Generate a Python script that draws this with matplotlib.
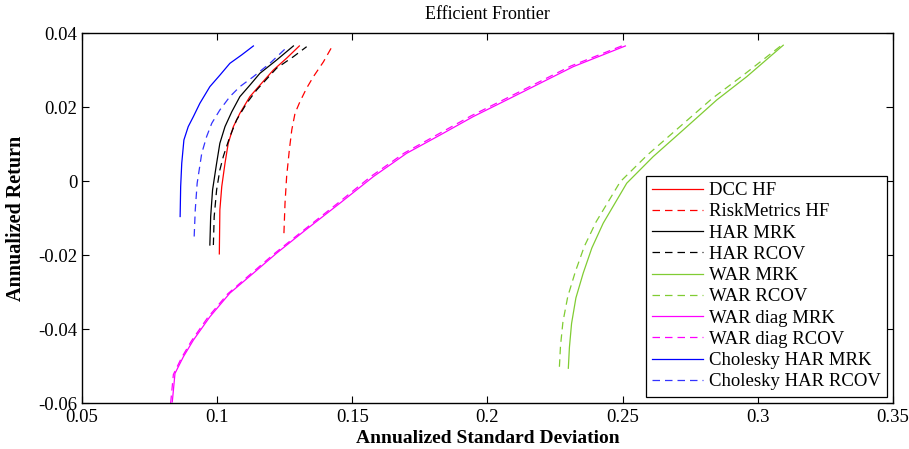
import matplotlib
matplotlib.use("Agg")
import matplotlib.pyplot as plt
from matplotlib.ticker import FixedLocator, FixedFormatter

plt.rcParams['font.family'] = ['Liberation Serif', 'DejaVu Serif']

# ---- data ----
dcc_hf_x = [0.1008, 0.1010, 0.1017, 0.1029, 0.1041, 0.1060, 0.1084, 0.1121, 0.1158, 0.1208, 0.1257, 0.1304]
dcc_hf_y = [-0.0197, -0.0078, -0.0015, 0.0048, 0.0102, 0.0147, 0.0183, 0.0228, 0.0259, 0.0300, 0.0332, 0.0365]

rm_hf_x = [0.1247, 0.1251, 0.1257, 0.1267, 0.1276, 0.1288, 0.1306, 0.1331, 0.1356, 0.1393, 0.1424]
rm_hf_y = [-0.0141, -0.0060, 0.0012, 0.0084, 0.0138, 0.0183, 0.0214, 0.0251, 0.0282, 0.0322, 0.0362]

har_mrk_x = [0.0973, 0.0976, 0.0983, 0.0998, 0.1010, 0.1029, 0.1054, 0.1084, 0.1121, 0.1158, 0.1220, 0.1282]
har_mrk_y = [-0.0173, -0.0096, -0.0024, 0.0048, 0.0102, 0.0147, 0.0187, 0.0228, 0.0259, 0.0291, 0.0327, 0.0365]

har_rcov_x = [0.0986, 0.0989, 0.0998, 0.1010, 0.1023, 0.1047, 0.1072, 0.1109, 0.1146, 0.1220, 0.1282, 0.1331]
har_rcov_y = [-0.0173, -0.0096, -0.0024, 0.0030, 0.0067, 0.0120, 0.0165, 0.0210, 0.0246, 0.0305, 0.0336, 0.0363]

war_mrk_x = [0.2299, 0.2303, 0.2311, 0.2327, 0.2354, 0.2386, 0.2428, 0.2515, 0.2613, 0.2724, 0.2848, 0.2959, 0.3094]
war_mrk_y = [-0.0506, -0.0450, -0.0385, -0.0316, -0.0249, -0.0181, -0.0114, -0.0006, 0.0066, 0.0138, 0.0219, 0.0282, 0.0367]

war_rcov_x = [0.2266, 0.2270, 0.2279, 0.2297, 0.2325, 0.2358, 0.2402, 0.2491, 0.2591, 0.2704, 0.2831, 0.2946, 0.3088]
war_rcov_y = [-0.0502, -0.0446, -0.0381, -0.0312, -0.0245, -0.0177, -0.0110, -0.0002, 0.0070, 0.0142, 0.0223, 0.0286, 0.0367]

wd_mrk_x = [0.0834, 0.0844, 0.0875, 0.0912, 0.0973, 0.1047, 0.1134, 0.1220, 0.1319, 0.1454, 0.1578,
            0.1701, 0.1824, 0.1947, 0.2071, 0.2194, 0.2317, 0.2510]
wd_mrk_y = [-0.0597, -0.0520, -0.0475, -0.0430, -0.0367, -0.0303, -0.0249, -0.0195, -0.0137, -0.0060, 0.0012,
            0.0075, 0.0124, 0.0174, 0.0219, 0.0264, 0.0309, 0.0365]

wd_rcov_x = [0.0828, 0.0838, 0.0868, 0.0905, 0.0965, 0.1039, 0.1126, 0.1212, 0.1311, 0.1446, 0.1570,
             0.1693, 0.1816, 0.1939, 0.2063, 0.2186, 0.2309, 0.2500]
wd_rcov_y = [-0.0600, -0.0523, -0.0478, -0.0432, -0.0369, -0.0305, -0.0250, -0.0196, -0.0138, -0.0060, 0.0013,
             0.0076, 0.0126, 0.0176, 0.0221, 0.0266, 0.0311, 0.0366]

chol_mrk_x = [0.0863, 0.0865, 0.0869, 0.0877, 0.0893, 0.0912, 0.0936, 0.0973, 0.1010, 0.1047, 0.1091, 0.1134]
chol_mrk_y = [-0.0096, -0.0015, 0.0048, 0.0111, 0.0147, 0.0174, 0.0210, 0.0255, 0.0286, 0.0318, 0.0341, 0.0365]

chol_rcov_x = [0.0915, 0.0919, 0.0926, 0.0943, 0.0961, 0.0980, 0.1010, 0.1047, 0.1084, 0.1134, 0.1195, 0.1263]
chol_rcov_y = [-0.0150, -0.0078, -0.0006, 0.0075, 0.0120, 0.0156, 0.0192, 0.0228, 0.0255, 0.0282, 0.0318, 0.0365]

labels = ['DCC HF', 'RiskMetrics HF', 'HAR MRK', 'HAR RCOV', 'WAR MRK', 'WAR RCOV',
          'WAR diag MRK', 'WAR diag RCOV', 'Cholesky HAR MRK', 'Cholesky HAR RCOV']

x_ticks = [0.05, 0.1, 0.15, 0.2, 0.25, 0.3, 0.35]
x_tick_labels = ['0.05', '0.1', '0.15', '0.2', '0.25', '0.3', '0.35']
y_ticks = [-0.06, -0.04, -0.02, 0, 0.02, 0.04]
y_tick_labels = ['-0.06', '-0.04', '-0.02', '0', '0.02', '0.04']

# ---- plot ----
fig = plt.figure(figsize=(9.09, 4.49), dpi=100)
ax = fig.add_axes([0.0902, 0.1024, 0.8922, 0.8241])

series = [
    (dcc_hf_x, dcc_hf_y, '#ff0000', '-'),
    (rm_hf_x, rm_hf_y, '#ff0000', '--'),
    (har_mrk_x, har_mrk_y, '#000000', '-'),
    (har_rcov_x, har_rcov_y, '#000000', '--'),
    (war_mrk_x, war_mrk_y, '#80cc33', '-'),
    (war_rcov_x, war_rcov_y, '#80cc33', '--'),
    (wd_mrk_x, wd_mrk_y, '#ff00ff', '-'),
    (wd_rcov_x, wd_rcov_y, '#ff00ff', '--'),
    (chol_mrk_x, chol_mrk_y, '#0000ff', '-'),
    (chol_rcov_x, chol_rcov_y, '#3333ff', '--'),
]

for (xs, ys, c, ls), lab in zip(series, labels):
    line, = ax.plot(xs, ys, color=c, lw=0.9, linestyle=ls, label=lab)
    if ls == '--':
        line.set_dashes([6, 4])

ax.set_xlim(0.05, 0.35)
ax.set_ylim(-0.06, 0.04)
ax.xaxis.set_major_locator(FixedLocator(x_ticks))
ax.xaxis.set_major_formatter(FixedFormatter(x_tick_labels))
ax.yaxis.set_major_locator(FixedLocator(y_ticks))
ax.yaxis.set_major_formatter(FixedFormatter(y_tick_labels))
ax.tick_params(direction='in', top=True, right=True, length=5, width=0.8,
               labelsize=13.5)
ax.tick_params(axis='x', pad=4.5)
ax.tick_params(axis='y', pad=3.5)
for s in ax.spines.values():
    s.set_linewidth(1.0)

ax.set_title('Efficient Frontier', fontsize=13, pad=10)
ax.set_xlabel('Annualized Standard Deviation', fontsize=14, fontweight='bold', labelpad=3)
ax.set_ylabel('Annualized Return', fontsize=14.5, fontweight='bold')
ax.yaxis.set_label_coords(-0.069, 0.5)

leg = ax.legend(loc='lower right', bbox_to_anchor=(0.9926, 0.0162), fontsize=13.5,
                frameon=True, fancybox=False, framealpha=1, edgecolor='black',
                handlelength=2.7, labelspacing=0.22, borderpad=0.35, handletextpad=0.3,
                borderaxespad=0)
leg.get_frame().set_linewidth(0.9)

fig.savefig('out.png', dpi=100)
